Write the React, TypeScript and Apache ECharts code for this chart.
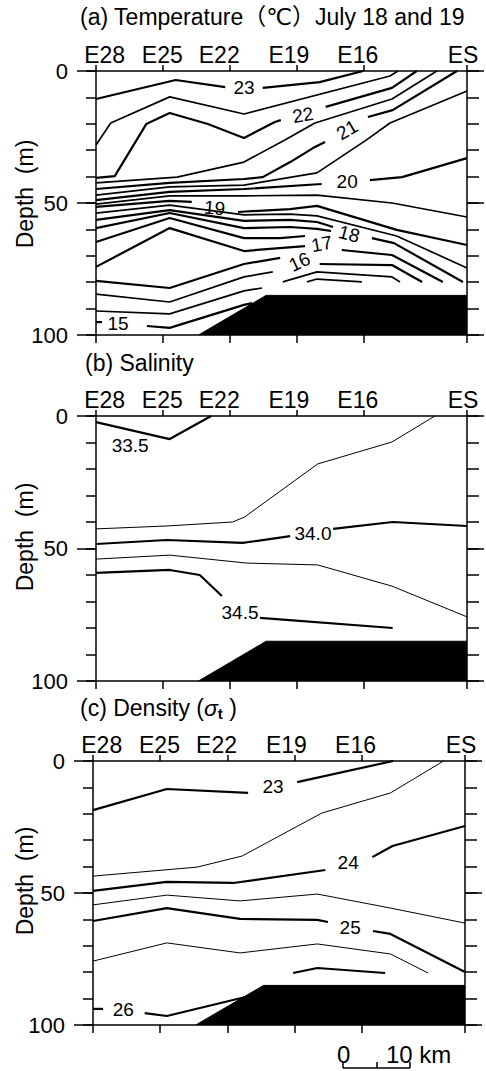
import React, { useEffect, useRef } from 'react';
import * as echarts from 'echarts';

const FONT = "'Liberation Sans', Arial, 'DejaVu Sans', 'Noto Sans CJK SC', sans-serif";

// ---- axes ----
const X_MAX = 55.4; // km, E28 = 0
const tickKm = [0, 10, 20, 30, 40, 55.4];
const stationNames = ['E28', 'E25', 'E22', 'E19', 'E16', 'ES'];
const stationLabelKm = [1.3, 9.9, 18.4, 28.8, 39.1, 54.8];
const depthMax = 100;

// seabed outline (km, m)
const seabedKm = [15.3, 25.4, 55.4];
const seabedDepth = [100, 85, 85];

// ---- (a) Temperature contours: segments of [km, depth] ----
const t23 = [[[0, 10.6], [11.9, 3.4], [19.3, 6.1]], [[24.9, 6.4], [33.4, 4.2], [39.9, 0]]];
const t22_5 = [[[0, 28.0], [2.2, 19.7], [11.0, 9.8], [22.1, 16.3], [43.9, 1.9], [45.1, 0]]];
const t22 = [[[0, 40.5], [2.8, 39.8], [7.5, 20.1], [11.0, 15.9], [16.7, 20.1], [22.1, 25.4], [26.7, 19.3], [27.6, 18.6]], [[34.3, 13.6], [44.2, 6.4], [47.9, 0]]];
const t21_5 = [[[0, 42.4], [12.1, 40.2], [22.1, 34.5], [28.2, 26.1], [32.7, 19.7], [44.2, 10.6], [50.9, 0]]];
const t21 = [[[0, 44.7], [11.0, 42.4], [22.1, 40.9], [24.9, 40.2], [29.0, 34.5], [32.4, 29.2], [34.2, 26.9]], [[40.6, 17.4], [44.3, 14.8], [53.9, 0]]];
const t20_5 = [[[0, 47.0], [11.0, 43.9], [22.1, 43.2], [33.0, 38.6], [40.4, 26.1], [43.9, 19.7], [55.4, 7.6]]];
const t20 = [[[0, 48.9], [11.0, 45.8], [22.1, 44.7], [33.7, 42.8]], [[40.9, 41.3], [45.7, 40.2], [55.4, 33.0]]];
const t19_5 = [[[0, 50.4], [11.0, 47.3], [22.1, 47.3], [33.0, 47.0], [44.2, 50.0], [55.4, 55.3]]];
const t19 = [[[0, 51.5], [11.0, 49.2], [14.3, 49.6]], [[21.2, 53.4], [29.0, 52.3], [33.0, 51.1], [44.9, 60.2], [55.4, 65.9]]];
const t18_5 = [[[0, 53.8], [11.0, 50.8], [22.1, 54.5], [29.0, 54.2], [33.0, 54.9], [44.9, 62.5], [55.4, 74.6]]];
const t18a = [[[0, 56.4], [11.0, 52.7], [22.1, 56.8], [29.0, 56.4], [33.0, 57.2], [35.4, 59.1]]];
const t18b = [[[0, 59.5], [11.0, 53.8], [22.1, 59.5], [29.0, 59.1], [33.0, 59.8], [35.1, 60.6]]];
const t18r = [[[41.2, 63.3], [44.5, 65.2], [54.8, 79.9]]];
const t17a = [[[0, 64.8], [11.0, 55.7], [22.1, 63.3], [27.5, 63.3], [31.2, 62.5]]];
const t17b = [[[0, 74.2], [11.0, 59.5], [22.1, 68.2], [31.2, 66.3]]];
const t17r = [[[36.7, 67.8], [44.2, 69.7], [51.8, 79.9]]];
const t16 = [[[0, 79.5], [11.0, 82.2], [22.1, 73.1], [27.5, 70.8]], [[33.4, 73.1], [44.2, 73.5], [48.7, 79.9]]];
const t16s1 = [[[27.9, 79.9], [33.0, 76.1], [44.2, 78.0], [45.4, 79.9]]];
const t16s2 = [[[31.5, 79.9], [33.0, 78.8], [39.7, 79.9]]];
const t15_7 = [[[0, 84.5], [11.0, 87.5], [22.1, 78.0], [26.4, 76.1]]];
const t15_3 = [[[0, 90.9], [11.0, 92.0], [22.1, 83.3], [24.8, 82.2]]];
const t15 = [[[0, 95.1], [0.9, 95.1]], [[7.6, 96.6], [11.0, 97.3], [22.1, 88.6], [23.3, 87.9]]];

const tempLabels = [
  { text: '23', km: 22.1, depth: 6.1, rotate: 0 },
  { text: '22', km: 30.9, depth: 16.7, rotate: 10 },
  { text: '21', km: 37.5, depth: 22.3, rotate: 30 },
  { text: '20', km: 37.5, depth: 42.0, rotate: 0 },
  { text: '19', km: 17.7, depth: 51.9, rotate: -5 },
  { text: '18', km: 37.8, depth: 61.7, rotate: -15 },
  { text: '17', km: 33.7, depth: 65.5, rotate: 10 },
  { text: '16', km: 30.4, depth: 72.3, rotate: 25 },
  { text: '15', km: 3.3, depth: 95.5, rotate: 0 },
];

// ---- (b) Salinity contours ----
const s33_5 = [[[0, 2.3], [11.0, 8.7], [17.2, 0]]];
const s33_75 = [[[0, 42.6], [10.6, 41.5], [20.4, 40.0], [22.2, 38.1], [33.1, 18.1], [44.2, 9.8], [50.6, 0]]];
const s34 = [[[0, 48.3], [10.6, 46.8], [21.9, 47.9], [29.0, 45.3]], [[35.4, 42.6], [44.3, 40.0], [55.4, 41.5]]];
const s34_25 = [[[0, 54.0], [11.0, 52.5], [22.5, 55.5], [33.1, 56.2], [44.2, 64.2], [55.4, 75.8]]];
const s34_5 = [[[0, 59.2], [11.0, 58.1], [15.5, 60.0], [18.8, 67.9]], [[24.5, 76.2], [44.3, 80.0]]];

const salLabels = [
  { text: '33.5', km: 5.1, depth: 11.3, rotate: 0 },
  { text: '34.0', km: 32.4, depth: 44.5, rotate: 0 },
  { text: '34.5', km: 21.5, depth: 74.3, rotate: 0 },
];

// ---- (c) Density contours ----
const d23 = [[[0, 18.6], [11.0, 10.6], [23.1, 12.1]], [[30.4, 8.0], [44.7, 0]]];
const d23_5 = [[[0, 43.6], [15.5, 40.2], [22.2, 36.0], [34.1, 19.7], [44.3, 12.1], [52.2, 0]]];
const d24 = [[[0, 49.2], [11.0, 45.8], [20.9, 46.2], [34.6, 41.3]], [[41.6, 36.4], [44.6, 32.2], [55.4, 24.6]]];
const d24_5 = [[[0, 54.5], [11.0, 50.8], [21.9, 53.0], [33.4, 50.4], [44.3, 55.7], [55.4, 61.4]]];
const d25 = [[[0, 60.6], [11.0, 55.7], [21.9, 59.8], [33.4, 60.2], [35.0, 61.0]], [[41.7, 64.4], [44.3, 65.5], [55.4, 79.9]]];
const d25_5 = [[[0, 75.8], [11.0, 68.9], [21.9, 72.7], [33.4, 69.3], [44.3, 73.1], [49.9, 80.3]]];
const d26a = [[[29.8, 80.3], [33.4, 78.4], [43.5, 80.3]]];
const d26 = [[[0, 93.9], [1.5, 93.9]], [[7.7, 95.5], [11.0, 96.6], [22.7, 89.4]]];

const denLabels = [
  { text: '23', km: 26.8, depth: 9.8, rotate: 0 },
  { text: '24', km: 38.0, depth: 38.6, rotate: 0 },
  { text: '25', km: 38.3, depth: 62.9, rotate: 0 },
  { text: '26', km: 4.5, depth: 94.3, rotate: 0 },
];

const THICK = 2.2;
const THIN_A = 1.7;
const THIN = 1;

const panels = [
  {
    top: 71, height: 264, left: 96, right: 19,
    contours: [
      { segs: t23, w: THICK }, { segs: t22_5, w: THIN_A }, { segs: t22, w: THICK }, { segs: t21_5, w: THIN_A },
      { segs: t21, w: THICK }, { segs: t20_5, w: THIN_A }, { segs: t20, w: THICK }, { segs: t19_5, w: THIN_A },
      { segs: t19, w: THICK }, { segs: t18_5, w: THIN_A }, { segs: t18a, w: THICK }, { segs: t18b, w: THICK },
      { segs: t18r, w: THICK }, { segs: t17a, w: THICK }, { segs: t17b, w: THICK }, { segs: t17r, w: THICK },
      { segs: t16, w: THICK }, { segs: t16s1, w: THIN_A }, { segs: t16s2, w: THIN_A }, { segs: t15_7, w: THIN_A },
      { segs: t15_3, w: THIN_A }, { segs: t15, w: THICK },
    ],
    labels: tempLabels,
  },
  {
    top: 416, height: 265, left: 96, right: 19,
    contours: [
      { segs: s33_5, w: THICK }, { segs: s33_75, w: THIN }, { segs: s34, w: THICK },
      { segs: s34_25, w: THIN }, { segs: s34_5, w: THICK },
    ],
    labels: salLabels,
  },
  {
    top: 761, height: 264, left: 93, right: 21,
    contours: [
      { segs: d23, w: THICK }, { segs: d23_5, w: THIN }, { segs: d24, w: THICK }, { segs: d24_5, w: THIN },
      { segs: d25, w: THICK }, { segs: d25_5, w: THIN }, { segs: d26a, w: THICK }, { segs: d26, w: THICK },
    ],
    labels: denLabels,
  },
];

function buildOption() {
  const black = '#000';
  const axisLineStyle = { color: black, width: 1.5 };
  const grid: any[] = [];
  const xAxis: any[] = [];
  const yAxis: any[] = [];
  const series: any[] = [];

  panels.forEach((p, g) => {
    grid.push({ left: p.left, right: p.right, top: p.top, height: p.height, containLabel: false });
    const xBase = { gridIndex: g, type: 'value', min: 0, max: X_MAX, splitLine: { show: false } };
    xAxis.push({
      ...xBase, position: 'top',
      axisLine: { show: true, onZero: false, lineStyle: axisLineStyle },
      axisTick: { show: true, customValues: tickKm, length: 6, inside: false, lineStyle: axisLineStyle },
      axisLabel: {
        show: true, customValues: stationLabelKm, margin: 5, fontSize: 23, color: black, fontFamily: FONT,
        formatter: (v: number) => {
          const i = stationLabelKm.findIndex((k) => Math.abs(k - v) < 1e-6);
          return i >= 0 ? stationNames[i] : '';
        },
      },
    });
    xAxis.push({
      ...xBase, position: 'bottom',
      axisLine: { show: true, onZero: false, lineStyle: axisLineStyle },
      axisTick: { show: true, customValues: tickKm, length: 8, inside: false, lineStyle: axisLineStyle },
      axisLabel: { show: false },
    });
    const yBase = { gridIndex: g, type: 'value', min: 0, max: depthMax, inverse: true, splitLine: { show: false } };
    yAxis.push({
      ...yBase, position: 'left', interval: 50,
      axisLine: { show: true, onZero: false, lineStyle: axisLineStyle },
      axisTick: { show: true, length: 19, lineStyle: axisLineStyle },
      axisLabel: { show: true, margin: 28, fontSize: 22, color: black, fontFamily: FONT },
    });
    yAxis.push({
      ...yBase, position: 'left', interval: 10,
      axisLine: { show: false, onZero: false },
      axisTick: { show: true, length: 10, lineStyle: axisLineStyle },
      axisLabel: { show: false },
    });
    yAxis.push({
      ...yBase, position: 'right', interval: 50,
      axisLine: { show: true, onZero: false, lineStyle: axisLineStyle },
      axisTick: { show: true, length: 17, lineStyle: axisLineStyle },
      axisLabel: { show: false },
    });
    yAxis.push({
      ...yBase, position: 'right', interval: 10,
      axisLine: { show: false, onZero: false },
      axisTick: { show: true, length: 12, lineStyle: axisLineStyle },
      axisLabel: { show: false },
    });

    const xi = g * 2;
    const yi = g * 4;
    // seabed
    series.push({
      type: 'line', xAxisIndex: xi, yAxisIndex: yi, silent: true, z: 4,
      data: seabedKm.map((k, i) => [k, seabedDepth[i]]),
      symbol: 'none', lineStyle: { color: black, width: 1 },
      areaStyle: { color: black, opacity: 1, origin: 'end' },
    });
    // contours
    p.contours.forEach((c) => {
      c.segs.forEach((seg) => {
        series.push({
          type: 'line', xAxisIndex: xi, yAxisIndex: yi, silent: true, z: 3,
          data: seg, symbol: 'none', showSymbol: false,
          lineStyle: { color: black, width: c.w },
        });
      });
    });
    // labels
    series.push({
      type: 'scatter', xAxisIndex: xi, yAxisIndex: yi, silent: true, z: 5,
      symbolSize: 0, itemStyle: { color: black },
      data: p.labels.map((l) => ({ name: l.text, value: [l.km, l.depth], label: { rotate: l.rotate } })),
      label: {
        show: true, formatter: '{b}', position: 'inside', fontSize: 19, color: black, fontFamily: FONT,
        textBorderWidth: 0, opacity: 1,
      },
      labelLayout: { hideOverlap: false },
    });
  });

  const txt = (x: number, y: number, text: string, size = 23) => ({
    type: 'text', x, y, silent: true,
    style: { text, fill: '#000', font: `${size}px ${FONT}`, textVerticalAlign: 'middle' },
  });

  const depthLabel = (y: number) => ({
    type: 'text', x: 25, y, rotation: Math.PI / 2, silent: true,
    style: { text: 'Depth  (m)', fill: '#000', font: `23px ${FONT}`, textAlign: 'center', textVerticalAlign: 'middle' },
  });

  const graphic: any[] = [
    txt(80, 17, '(a) Temperature（℃）'),
    txt(315, 17, 'July 18 and 19'),
    txt(85, 363, '(b) Salinity'),
    {
      type: 'text', x: 80, y: 708, silent: true,
      style: {
        text: '{n|(c) Density (}{s|σ}{t|t}{n| )}',
        textVerticalAlign: 'middle',
        rich: {
          n: { fontSize: 23, fontFamily: FONT, fill: '#000' },
          s: { fontSize: 23, fontFamily: FONT, fontStyle: 'italic', fill: '#000' },
          t: { fontSize: 15, fontFamily: FONT, fontWeight: 'bold', fill: '#000', padding: [10, 0, 0, 0] },
        },
      },
    },
    depthLabel(194),
    depthLabel(537),
    depthLabel(881),
    // scale bar
    txt(337, 1054, '0', 24),
    txt(386, 1054, '10 km', 24),
    { type: 'line', silent: true, shape: { x1: 343, y1: 1068, x2: 410, y2: 1068 }, style: { stroke: '#000', lineWidth: 1.5 } },
    { type: 'line', silent: true, shape: { x1: 343, y1: 1062, x2: 343, y2: 1068 }, style: { stroke: '#000', lineWidth: 1.5 } },
    { type: 'line', silent: true, shape: { x1: 377, y1: 1062, x2: 377, y2: 1068 }, style: { stroke: '#000', lineWidth: 1.5 } },
    { type: 'line', silent: true, shape: { x1: 410, y1: 1062, x2: 410, y2: 1068 }, style: { stroke: '#000', lineWidth: 1.5 } },
  ];

  return {
    animation: false,
    backgroundColor: '#fff',
    textStyle: { fontFamily: FONT },
    grid, xAxis, yAxis, series, graphic,
  };
}

export default function App() {
  const ref = useRef<HTMLDivElement>(null);
  useEffect(() => {
    document.body.style.margin = '0';
    if (!ref.current) return;
    const chart = echarts.init(ref.current, undefined, { renderer: 'svg' });
    chart.setOption(buildOption() as any);
    return () => chart.dispose();
  }, []);
  return <div ref={ref} style={{ width: 486, height: 1071 }} />;
}
